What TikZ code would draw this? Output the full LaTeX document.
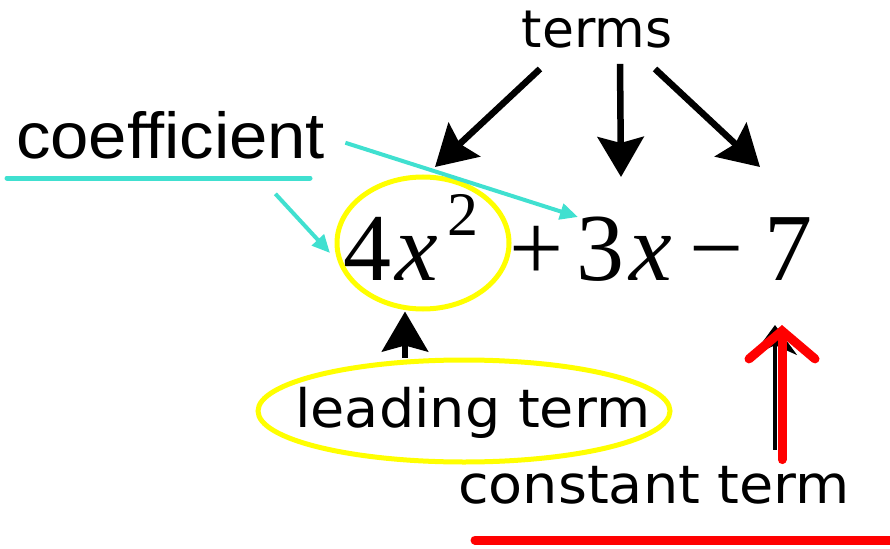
\documentclass[tikz,border=0pt]{standalone}
\usepackage{fontspec}
\usepackage{xcolor}
\usetikzlibrary{arrows.meta,positioning,shapes.geometric}
\newfontfamily\labelfont{DejaVu Sans}
\newfontfamily\widelabelfont[FakeStretch=1.05]{DejaVu Sans}
\newfontfamily\coeffont[FakeStretch=1.06]{Liberation Sans}
\newfontfamily\polyfont{Liberation Serif}
\definecolor{ringyellow}{RGB}{255,255,0}
\definecolor{linecyan}{RGB}{64,224,208}
\definecolor{markred}{RGB}{255,0,0}

\begin{document}
\begin{tikzpicture}[x=1pt,y=-1pt,
    lbl/.style={font=\widelabelfont\fontsize{53}{53}\selectfont,inner sep=0pt},
    termarrow/.style={-{Stealth[length=40pt,width=46pt,inset=6pt]},line width=6.5pt},
    pointer/.style={-{Triangle[length=18pt,width=16pt]},line width=4pt,linecyan},
    ring/.style={draw=ringyellow,line width=5pt,ellipse,inner sep=0pt}]
  \useasboundingbox (0,0) rectangle (890,548);
  % labels
  \node[lbl,anchor=base,font=\labelfont\fontsize{52}{52}\selectfont] (terms) at (597,48) {terms};
  \node[anchor=base west,inner sep=0pt,
        font=\coeffont\fontsize{65}{65}\selectfont] (coef) at (16,158) {coefficient};
  \node[anchor=base west,inner sep=0pt,
        font=\polyfont\fontsize{96}{96}\selectfont] (poly) at (343,280)
    {4\hspace{4pt}\textit{x}\hspace{10pt}\raisebox{45pt}{\fontsize{62}{62}\selectfont 2}\hspace{31pt}+\hspace{13pt}3\hspace{5pt}\textit{x}\hspace{17pt}−\hspace{21pt}7};
  \node[ring,minimum width=172pt,minimum height=132pt] (lead) at (423,243) {};
  \node[lbl,anchor=base west] (leading) at (295,427) {leading term};
  \node[ring,minimum width=412pt,minimum height=102pt] (leadring) at (464,411) {};
  \node[lbl,anchor=base west] (const) at (458,503) {constant term};
  \coordinate (hitfour) at (435,167);
  \coordinate (hitthree) at (621,177);
  \coordinate (hitseven) at (760,167);
  \coordinate (hitlead) at (330,253);
  \coordinate (hitcoef) at (578,217);
  \coordinate (sevenb) at (775,325);
  \coordinate (sevenr) at (782,325);
  % terms arrows
  \draw[termarrow] (terms.south) ++(-57,20) -- (hitfour);
  \draw[termarrow] (terms.south) ++(23,15) -- (hitthree);
  \draw[termarrow] (terms.south) ++(58,20) -- (hitseven);
  % coefficient
  \draw[linecyan,line width=5pt,line cap=round] (7,178) -- (310,178);
  \draw[pointer] (coef.south east) ++(-50,35) -- (hitlead);
  \draw[pointer] (coef.east) ++(20,8) -- (hitcoef);
  % leading term
  \draw[termarrow] ([xshift=-59pt]leadring.north) -- ([xshift=-18pt]lead.south);
  % constant term
  \draw[-{Stealth[length=30pt,width=44pt]},line width=3.5pt]
    ([yshift=16pt]const.north -| sevenb) -- (sevenb);
  \draw[markred,line width=9pt,line cap=round,
        -{Straight Barb[length=28pt,width=66pt,line cap=round]}]
    ([yshift=6pt]const.north -| sevenr) -- (sevenr);
  \draw[markred,line width=9pt,line cap=round] (475,540) -- (900,540);
\end{tikzpicture}
\end{document}
